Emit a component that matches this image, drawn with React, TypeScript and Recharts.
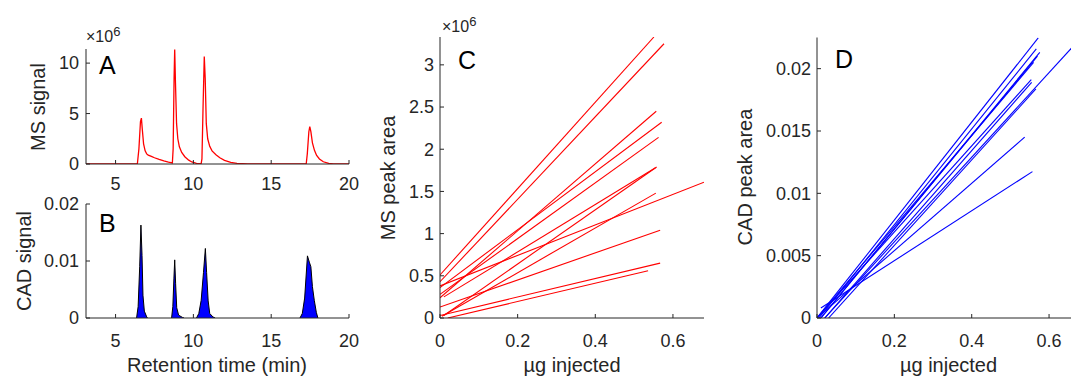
import { Area, AreaChart, Line, LineChart, XAxis, YAxis } from "recharts";

const FONT = "'Liberation Sans', Arial, sans-serif";
const INK = "#262626";

// A: MS chromatogram (signal in units of 1e6)
const msTime = [
  3.1, 6.4, 6.5, 6.6, 6.66, 6.72, 6.8, 6.9, 7.0, 7.1, 7.3, 7.5, 7.8, 8.1, 8.4, 8.65,
  8.7, 8.76, 8.8, 8.85, 8.92, 9.0, 9.1, 9.25, 9.45, 9.7, 9.9, 10.2, 10.5,
  10.55, 10.62, 10.7, 10.76, 10.83, 10.92, 11.05, 11.2, 11.45, 11.7, 12.0, 12.4, 12.8, 13.5, 14.5,
  17.25, 17.32, 17.42, 17.48, 17.55, 17.65, 17.78, 17.92, 18.1, 18.35, 18.7, 19.0, 20,
];
const msSignal = [
  0, 0, 1.5, 4.2, 4.55, 3.4, 2.0, 1.3, 1.0, 0.88, 0.76, 0.62, 0.45, 0.3, 0.18, 0.1,
  1.5, 8.5, 11.35, 8.0, 4.0, 2.5, 1.7, 1.15, 0.72, 0.38, 0.2, 0.07, 0.03,
  0.5, 5.5, 10.65, 8.5, 4.0, 2.5, 1.75, 1.3, 0.92, 0.62, 0.36, 0.17, 0.07, 0.02, 0,
  0, 1.0, 3.2, 3.7, 3.2, 2.1, 1.35, 0.85, 0.5, 0.22, 0.06, 0, 0,
];

// B: CAD chromatogram (null separates the peaks)
const cadTime = [
  6.35, 6.45, 6.55, 6.63, 6.7, 6.76, 6.85, 7.0, 7.05, 8.0,
  8.6, 8.68, 8.75, 8.8, 8.86, 8.93, 9.05, 9.3, 9.4, 10.0,
  10.2, 10.35, 10.5, 10.65, 10.77, 10.85, 10.95, 11.05, 11.25, 11.4, 14.0,
  16.85, 17.0, 17.15, 17.33, 17.45, 17.55, 17.65, 17.77, 17.9, 18.0,
];
const cadSignal = [
  0, 0.002, 0.009, 0.0163, 0.011, 0.004, 0.0012, 0.0002, 0, null,
  0, 0.002, 0.007, 0.0102, 0.006, 0.0018, 0.0005, 0.0001, 0, null,
  0, 0.0008, 0.0031, 0.008, 0.0122, 0.008, 0.003, 0.0008, 0.0002, 0, null,
  0, 0.0008, 0.0035, 0.0109, 0.0098, 0.009, 0.0055, 0.0031, 0.001, 0,
];

// C: MS calibration lines (peak area in units of 1e6)
const msX0 = [0, 0, 0, 0, 0, 0.01, 0, 0.005, 0, 0, 0.01, 0.02];
const msY0 = [0.51, 0.43, 0.24, 0.36, 0.28, 0.03, 0.38, 0.02, 0.13, 0.03, 0.25, 0.0];
const msX1 = [0.551, 0.577, 0.557, 0.571, 0.563, 0.558, 0.68, 0.556, 0.567, 0.567, 0.555, 0.536];
const msY1 = [3.33, 3.25, 2.45, 2.32, 2.14, 1.79, 1.61, 1.48, 1.04, 0.65, 1.78, 0.56];

// D: CAD calibration lines
const cadX0 = [0, 0.005, 0.01, 0.02, 0, 0.03, 0, 0.01, 0.01, 0.02, 0];
const cadY0 = [0, 0, 0, 0, 0, 0, 0, 0.0008, 0, 0, 0];
const cadX1 = [0.572, 0.567, 0.576, 0.68, 0.554, 0.566, 0.537, 0.557, 0.57, 0.555, 0.56];
const cadY1 = [0.02247, 0.02158, 0.02131, 0.0224, 0.01912, 0.01837, 0.01451, 0.01174, 0.021, 0.0189, 0.0205];

const msTrace = msTime.map((t, i) => ({ t, v: msSignal[i] }));
const cadTrace = cadTime.map((t, i) => ({ t, v: cadSignal[i] }));
const msLines = msX0.map((x, i) => [
  { x, y: msY0[i] },
  { x: msX1[i], y: msY1[i] },
]);
const cadLines = cadX0.map((x, i) => [
  { x, y: cadY0[i] },
  { x: cadX1[i], y: cadY1[i] },
]);

const XTick = ({ x, y, payload }: any) => (
  <text x={x} y={y} dy={12} textAnchor="middle" fontSize={18} fontFamily={FONT} fill={INK}>
    {payload.value}
  </text>
);

const YTick = ({ x, y, payload }: any) => (
  <text x={x} y={y} dy={6.3} textAnchor="end" fontSize={18} fontFamily={FONT} fill={INK}>
    {payload.value}
  </text>
);

const axisProps = {
  axisLine: { stroke: INK, strokeWidth: 1 },
  tickLine: { stroke: INK, strokeWidth: 1 },
  tickSize: -4,
  interval: 0 as const,
};

const abs = (left: number, top: number, w: number, h: number) => ({
  position: "absolute" as const,
  left,
  top,
  width: w,
  height: h,
});

const Txt = ({ x, y, size, children, rotate, color = INK }: any) => (
  <div
    style={{
      position: "absolute",
      left: x,
      top: y,
      transform: `translate(-50%, -50%)${rotate ? " rotate(-90deg)" : ""}`,
      fontFamily: FONT,
      fontSize: size,
      lineHeight: 1,
      whiteSpace: "nowrap",
      color,
    }}
  >
    {children}
  </div>
);

const Plain = ({ x, y, size, children, color = INK }: any) => (
  <div
    style={{
      position: "absolute",
      left: x,
      top: y,
      fontFamily: FONT,
      fontSize: size,
      lineHeight: 1,
      whiteSpace: "nowrap",
      color,
    }}
  >
    {children}
  </div>
);

const Exp = ({ x, y }: any) => (
  <Plain x={x} y={y} size={16}>
    ×10
    <span style={{ fontSize: 13, position: "relative", top: -6 }}>6</span>
  </Plain>
);

export default function App() {
  return (
    <div style={{ ...abs(0, 0, 1071, 377), overflow: "hidden", background: "#fff" }}>
      <div style={abs(0, 20, 360, 185)}>
        <LineChart width={360} height={185} data={msTrace} margin={{ top: 29, right: 11, left: 0, bottom: 1 }}>
          <XAxis
            {...axisProps}
            dataKey="t"
            type="number"
            domain={[3.1, 20]}
            ticks={[5, 10, 15, 20]}
            allowDataOverflow
            height={40}
            tickMargin={18}
            tick={<XTick />}
          />
          <YAxis
            {...axisProps}
            type="number"
            domain={[0, 11.4]}
            ticks={[0, 5, 10]}
            allowDataOverflow
            width={86}
            tickMargin={11}
            tick={<YTick />}
          />
          <Line dataKey="v" type="linear" stroke="#ff0000" strokeWidth={1.3} dot={false} isAnimationActive={false} />
        </LineChart>
      </div>

      <div style={abs(0, 190, 360, 187)}>
        <AreaChart width={360} height={187} data={cadTrace} margin={{ top: 14, right: 11, left: 0, bottom: 0 }}>
          <XAxis
            {...axisProps}
            dataKey="t"
            type="number"
            domain={[3.1, 20]}
            ticks={[5, 10, 15, 20]}
            allowDataOverflow
            height={59}
            tickMargin={21}
            tick={<XTick />}
          />
          <YAxis
            {...axisProps}
            type="number"
            domain={[0, 0.02]}
            ticks={[0, 0.01, 0.02]}
            allowDataOverflow
            width={86}
            tickMargin={11}
            tick={<YTick />}
          />
          <Area
            dataKey="v"
            type="linear"
            stroke="#000"
            strokeWidth={1}
            fill="#0000ff"
            fillOpacity={1}
            connectNulls={false}
            isAnimationActive={false}
          />
        </AreaChart>
      </div>

      <div style={abs(360, 0, 350, 377)}>
        <LineChart width={350} height={377} margin={{ top: 37, right: 6, left: 0, bottom: 0 }}>
          <XAxis
            {...axisProps}
            dataKey="x"
            type="number"
            domain={[0, 0.68]}
            ticks={[0, 0.2, 0.4, 0.6]}
            allowDataOverflow
            height={59}
            tickMargin={21}
            tick={<XTick />}
          />
          <YAxis
            {...axisProps}
            type="number"
            domain={[0, 3.33]}
            ticks={[0, 0.5, 1, 1.5, 2, 2.5, 3]}
            allowDataOverflow
            width={80}
            tickMargin={10}
            tick={<YTick />}
          />
          {msLines.map((d, i) => (
            <Line
              key={`ms-${i}`}
              data={d}
              dataKey="y"
              type="linear"
              stroke="#ff0000"
              strokeWidth={1.1}
              dot={false}
              isAnimationActive={false}
            />
          ))}
        </LineChart>
      </div>

      <div style={abs(730, 0, 355, 377)}>
        <LineChart width={355} height={377} margin={{ top: 37.5, right: 5, left: 0, bottom: 0 }}>
          <XAxis
            {...axisProps}
            dataKey="x"
            type="number"
            domain={[0, 0.68]}
            ticks={[0, 0.2, 0.4, 0.6]}
            allowDataOverflow
            height={59}
            tickMargin={21}
            tick={<XTick />}
          />
          <YAxis
            {...axisProps}
            type="number"
            domain={[0, 0.0225]}
            ticks={[0, 0.005, 0.01, 0.015, 0.02]}
            allowDataOverflow
            width={87}
            tickMargin={10}
            tick={<YTick />}
          />
          {cadLines.map((d, i) => (
            <Line
              key={`cad-${i}`}
              data={d}
              dataKey="y"
              type="linear"
              stroke="#0000ff"
              strokeWidth={1.1}
              dot={false}
              isAnimationActive={false}
            />
          ))}
        </LineChart>
      </div>

      {/* axis labels */}
      <Txt x={38} y={106.5} size={20} rotate>MS signal</Txt>
      <Txt x={24} y={261} size={20} rotate>CAD signal</Txt>
      <Txt x={217} y={365} size={20}>Retention time (min)</Txt>
      <Txt x={388} y={178} size={20} rotate>MS peak area</Txt>
      <Txt x={572} y={365} size={20}>µg injected</Txt>
      <Txt x={745} y={177} size={20} rotate>CAD peak area</Txt>
      <Txt x={948.5} y={365} size={20}>µg injected</Txt>

      {/* exponent labels */}
      <Exp x={86} y={29} />
      <Exp x={442} y={19} />

      {/* panel letters */}
      <Plain x={99} y={53} size={25} color="#000">A</Plain>
      <Plain x={99} y={211} size={25} color="#000">B</Plain>
      <Plain x={458} y={48} size={25} color="#000">C</Plain>
      <Plain x={835} y={47} size={25} color="#000">D</Plain>
    </div>
  );
}
